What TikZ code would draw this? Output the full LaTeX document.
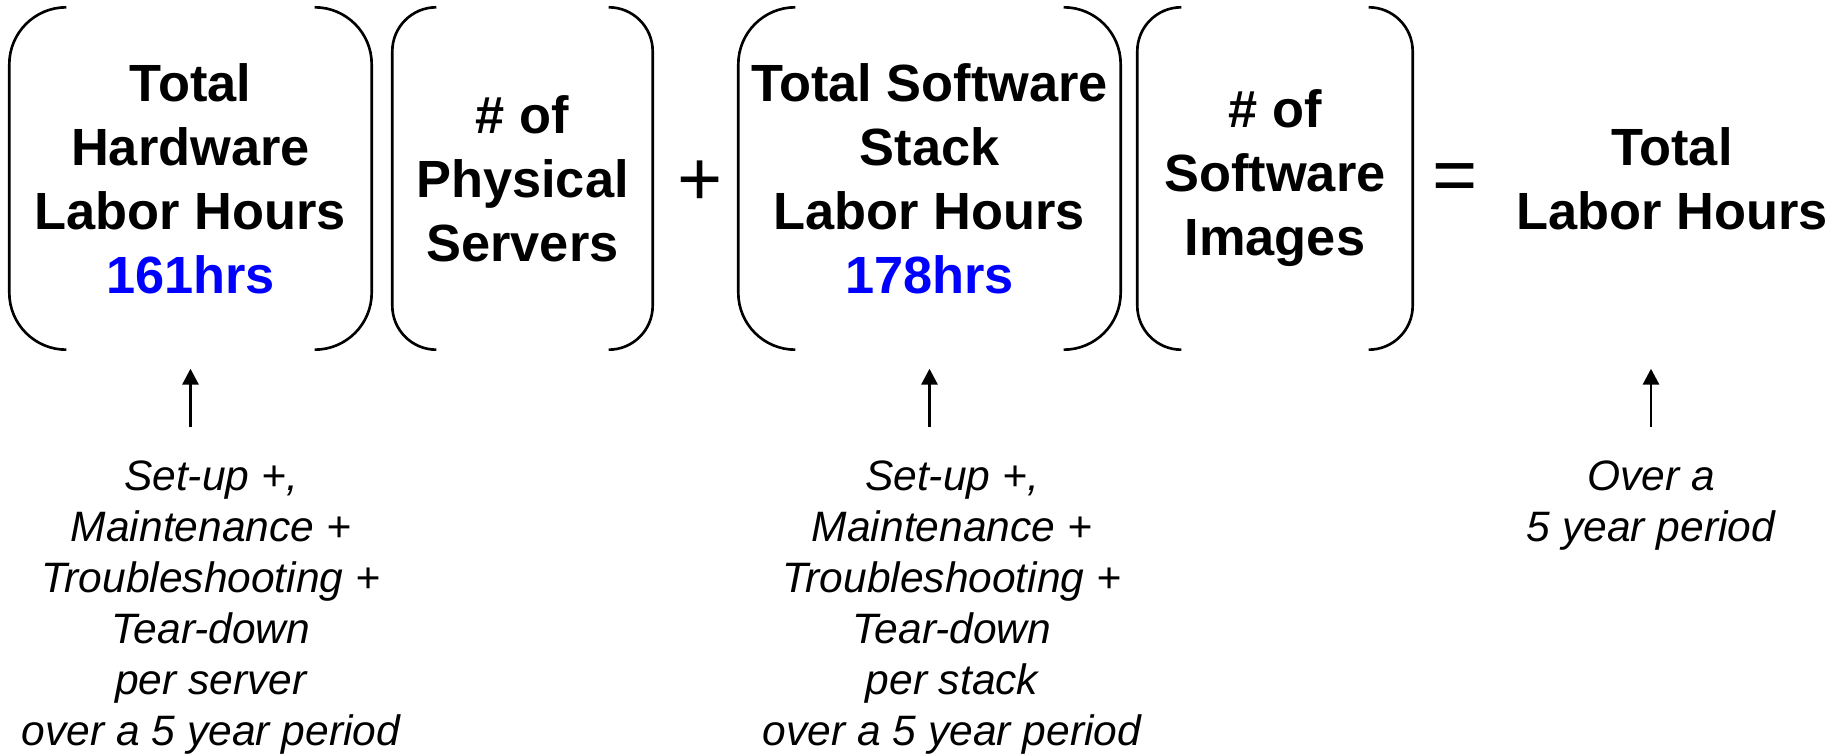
\documentclass[tikz,border=0pt]{standalone}
\usepackage{fontspec}
\setmainfont{Liberation Sans}
\usepackage{tikz}
\usetikzlibrary{positioning,calc,arrows.meta}

\begin{document}
\begin{tikzpicture}[
    term/.style={inner sep=0pt, align=center, minimum height=3.41cm, font=\fontsize{14.9}{18.2}\selectfont\bfseries},
    note/.style={inner sep=0pt, align=center, anchor=north, font=\fontsize{12.1}{14.5}\selectfont\itshape},
    op/.style={inner sep=0pt, font=\fontsize{22}{26}\selectfont},
    brk/.style={line width=0.75pt},
    arrow/.style={-{Triangle[length=0.16cm, width=0.16cm]}, line width=0.85pt},
    hrs/.style={text=blue},
]
\useasboundingbox (0,0) rectangle (18.46,-7.54);

% terms of the sum
\node[term, minimum width=3.61cm] (hw) at (1.905,-1.785) {Total\\Hardware\\Labor Hours\\\textcolor{blue}{161hrs}};
\node[term, minimum width=2.59cm] (ps) at (5.225,-1.785) {\# of\\Physical\\Servers};
\node[op] (plus) at (7.00,-1.83) {+};
\node[term, minimum width=3.81cm] (sw) at (9.295,-1.785) {Total Software\\Stack\\Labor Hours\\\textcolor{blue}{178hrs}};
\node[term, minimum width=2.74cm] (si) at (12.75,-1.785) {\# of\\Software\\Images};
\node[op] (eq) at (14.55,-1.83) {=};
\node[term] (tot) at (16.72,-1.785) {Total\\Labor Hours};

% brackets
\draw[brk, rounded corners=0.57cm] ([xshift=0.57cm]hw.north west) -- (hw.north west) -- (hw.south west) -- ([xshift=0.57cm]hw.south west);
\draw[brk, rounded corners=0.57cm] ([xshift=-0.57cm]hw.north east) -- (hw.north east) -- (hw.south east) -- ([xshift=-0.57cm]hw.south east);
\draw[brk, rounded corners=0.44cm] ([xshift=0.44cm]ps.north west) -- (ps.north west) -- (ps.south west) -- ([xshift=0.44cm]ps.south west);
\draw[brk, rounded corners=0.44cm] ([xshift=-0.44cm]ps.north east) -- (ps.north east) -- (ps.south east) -- ([xshift=-0.44cm]ps.south east);
\draw[brk, rounded corners=0.57cm] ([xshift=0.57cm]sw.north west) -- (sw.north west) -- (sw.south west) -- ([xshift=0.57cm]sw.south west);
\draw[brk, rounded corners=0.57cm] ([xshift=-0.57cm]sw.north east) -- (sw.north east) -- (sw.south east) -- ([xshift=-0.57cm]sw.south east);
\draw[brk, rounded corners=0.44cm] ([xshift=0.44cm]si.north west) -- (si.north west) -- (si.south west) -- ([xshift=0.44cm]si.south west);
\draw[brk, rounded corners=0.44cm] ([xshift=-0.44cm]si.north east) -- (si.north east) -- (si.south east) -- ([xshift=-0.44cm]si.south east);

% notes below
\node[note] (hwnote) at (2.11,-4.60) {Set-up +,\\Maintenance +\\Troubleshooting +\\Tear-down\\per server\\over a 5 year period};
\node[note] (swnote) at (9.52,-4.60) {Set-up +,\\Maintenance +\\Troubleshooting +\\Tear-down\\per stack\\over a 5 year period};
\node[note] (totnote) at (16.51,-4.60) {Over a\\5 year period};

% arrows
\draw[arrow, shorten <=0.33cm, shorten >=0.19cm] (hw.south |- hwnote.north) -- (hw.south);
\draw[arrow, shorten <=0.33cm, shorten >=0.19cm] (sw.south |- swnote.north) -- (sw.south);
\draw[arrow, shorten <=0.33cm, shorten >=0.19cm] (totnote.north) -- (totnote.north |- hw.south);
\end{tikzpicture}
\end{document}
